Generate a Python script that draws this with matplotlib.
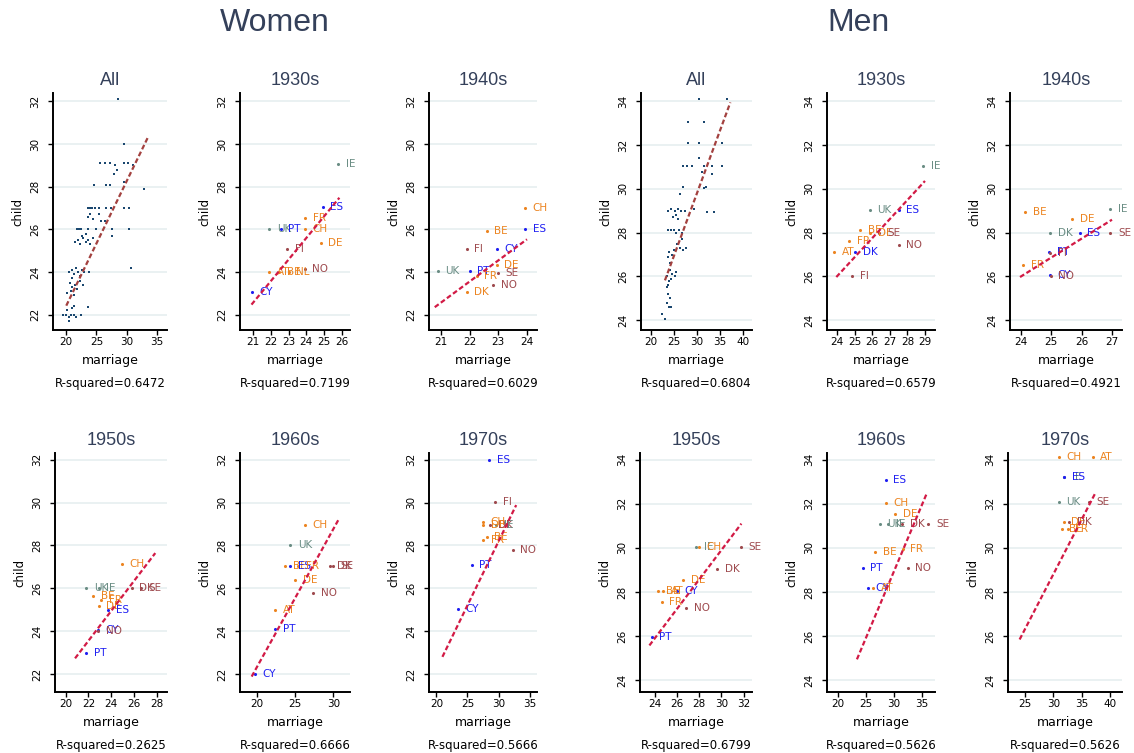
import matplotlib
matplotlib.use("Agg")
import matplotlib.pyplot as plt
import numpy as np

plt.rcParams["font.family"] = ["DejaVu Sans"]

# ---------------------------------------------------------------------------
# values
# ---------------------------------------------------------------------------
women_all_x = [28.6, 29.6, 25.6, 26.4, 27.2, 28.0, 29.6, 30.3, 31.0, 27.9, 28.4,
               24.6, 26.6, 27.2, 29.6, 32.9, 23.6, 24.0, 24.3, 24.7, 25.5, 26.6,
               27.4, 29.6, 30.4, 23.6, 24.0, 24.4, 25.8, 26.5, 25.4, 21.7, 22.1,
               22.5, 23.6, 25.0, 27.5, 30.4, 27.5, 21.4, 21.9, 22.3, 22.8, 23.2,
               23.6, 24.0, 22.6, 23.3, 24.4, 30.8, 20.5, 20.9, 21.3, 21.6, 22.0,
               22.3, 22.6, 23.0, 23.7, 21.0, 20.6, 21.0, 21.4, 21.8, 22.2, 22.7,
               20.2, 21.2, 20.8, 23.6, 19.5, 20.0, 20.4, 20.8, 21.2, 21.6, 22.4,
               20.5, 20.9, 21.3, 20.1]
women_all_y = [32.1, 30.0, 29.1, 29.1, 29.1, 29.0, 29.1, 29.1, 29.0, 28.6, 28.8,
               28.1, 28.1, 28.1, 28.2, 27.9, 27.0, 27.0, 27.0, 27.0, 27.0, 27.0,
               27.0, 27.0, 27.0, 26.6, 26.7, 26.5, 26.4, 26.4, 26.7, 26.0, 26.0,
               26.0, 26.0, 26.0, 26.0, 26.0, 25.7, 25.4, 25.5, 25.3, 25.6, 25.4,
               25.5, 25.3, 25.7, 25.8, 25.6, 24.2, 24.0, 24.1, 23.9, 24.2, 24.0,
               23.8, 24.1, 24.0, 24.0, 23.7, 23.5, 23.3, 23.4, 23.2, 23.6, 23.4,
               23.0, 22.9, 23.1, 22.35, 22.0, 22.0, 21.9, 22.0, 22.0, 21.9, 22.0,
               21.7, 22.3, 22.4, 22.2]

men_all_x = [30.4, 36.6, 28.2, 31.6, 28.2, 30.4, 35.5, 30.4, 27.1, 27.8, 28.9,
             31.6, 33.3, 35.5, 31.1, 33.3, 27.1, 26.4, 31.6, 32.0, 29.3, 32.2,
             33.7, 23.8, 24.5, 25.2, 25.9, 26.6, 25.5, 24.9, 26.0, 27.4, 23.8,
             24.4, 25.0, 25.6, 26.2, 26.9, 25.7, 26.4, 27.0, 27.7, 26.9, 24.0,
             24.6, 25.1, 23.7, 24.3, 24.2, 24.7, 25.2, 25.6, 23.6, 24.0, 23.8,
             24.5, 23.5, 23.7, 24.3, 23.6, 23.9, 24.5, 22.4, 23.1]
men_all_y = [34.1, 34.1, 33.05, 33.05, 32.1, 32.1, 32.1, 31.4, 31.05, 31.05, 31.05,
             31.05, 31.05, 31.05, 30.75, 30.7, 30.1, 29.75, 30.05, 30.1, 29.1, 28.95,
             28.95, 29.0, 29.1, 29.0, 29.1, 29.0, 28.8, 28.7, 28.6, 29.0, 28.1,
             28.1, 28.1, 28.0, 28.1, 28.0, 27.5, 27.3, 27.2, 27.3, 27.7, 27.1,
             27.0, 27.2, 26.9, 26.6, 26.3, 26.1, 26.0, 26.2, 26.0, 25.8, 25.6,
             25.9, 25.5, 25.2, 25.0, 24.8, 24.6, 24.6, 24.3, 24.05]

# decade panels: (country, mean age at marriage, mean age at first child, region)
women_1930s = [("IE", 25.81, 29.06, "anglo"), ("ES", 24.92, 27.05, "south"),
               ("FR", 23.92, 26.55, "west"), ("UK", 21.90, 26.03, "anglo"),
               ("PT", 22.55, 26.03, "south"), ("CH", 23.90, 26.03, "west"),
               ("DE", 24.81, 25.36, "west"), ("FI", 22.92, 25.09, "north"),
               ("AT", 21.90, 24.00, "west"), ("BE", 22.45, 24.00, "west"),
               ("NL", 23.00, 24.00, "west"), ("NO", 23.90, 24.15, "north"),
               ("CY", 20.94, 23.08, "south")]
women_1940s = [("CH", 23.94, 27.02, "west"), ("ES", 23.94, 26.03, "south"),
               ("BE", 22.60, 25.92, "west"), ("FI", 21.90, 25.06, "north"),
               ("CY", 22.95, 25.06, "south"), ("UK", 20.90, 24.03, "anglo"),
               ("PT", 22.00, 24.03, "south"), ("DE", 22.95, 24.35, "west"),
               ("SE", 23.00, 23.95, "north"), ("FR", 22.25, 23.80, "west"),
               ("NO", 22.83, 23.37, "north"), ("DK", 21.90, 23.05, "west")]
women_1950s = [("CH", 24.93, 27.12, "west"), ("UK", 21.79, 26.00, "anglo"),
               ("IE", 22.90, 26.00, "anglo"), ("DK", 25.80, 26.00, "north"),
               ("SE", 26.60, 26.00, "north"), ("BE", 22.40, 25.64, "west"),
               ("FR", 23.10, 25.45, "west"), ("DE", 22.90, 25.15, "west"),
               ("ES", 23.75, 24.99, "south"), ("CY", 22.80, 24.06, "south"),
               ("NO", 22.85, 24.02, "north"), ("PT", 21.79, 23.00, "south")]
women_1960s = [("CH", 26.30, 28.96, "west"), ("UK", 24.35, 28.03, "anglo"),
               ("BE", 23.70, 27.06, "west"), ("ES", 24.35, 27.06, "south"),
               ("FR", 25.40, 27.06, "west"), ("DK", 29.50, 27.06, "north"),
               ("SE", 29.90, 27.06, "north"), ("DE", 25.00, 26.40, "west"),
               ("NO", 27.40, 25.77, "north"), ("AT", 22.40, 25.00, "west"),
               ("PT", 22.40, 24.09, "south"), ("CY", 19.80, 22.00, "south")]
women_1970s = [("ES", 28.53, 32.00, "south"), ("FI", 29.44, 30.03, "north"),
               ("DE", 27.55, 28.94, "west"), ("DK", 28.70, 28.94, "north"),
               ("IE", 29.60, 28.94, "anglo"), ("CH", 27.45, 29.10, "west"),
               ("FR", 27.55, 28.24, "west"), ("BE", 28.10, 28.40, "west"),
               ("NO", 32.30, 27.80, "north"), ("PT", 25.67, 27.08, "south"),
               ("CY", 23.50, 25.01, "south")]

men_1930s = [("IE", 28.90, 31.05, "anglo"), ("UK", 25.85, 29.05, "anglo"),
             ("ES", 27.50, 29.05, "south"), ("BE", 25.30, 28.10, "west"),
             ("DE", 25.90, 28.00, "west"), ("SE", 26.40, 28.00, "north"),
             ("FR", 24.70, 27.60, "west"), ("NO", 27.50, 27.45, "north"),
             ("AT", 23.85, 27.10, "west"), ("DK", 25.05, 27.10, "south"),
             ("FI", 24.85, 26.00, "north")]
men_1940s = [("BE", 24.13, 28.95, "west"), ("IE", 26.95, 29.08, "anglo"),
             ("DE", 25.68, 28.60, "west"), ("DK", 24.96, 28.00, "anglo"),
             ("ES", 25.94, 28.00, "south"), ("SE", 26.95, 28.00, "north"),
             ("PT", 24.94, 27.10, "south"), ("FI", 24.96, 27.08, "north"),
             ("FR", 24.08, 26.50, "west"), ("CY", 24.96, 26.05, "south"),
             ("NO", 24.98, 26.02, "north")]
men_1950s = [("IE", 27.70, 30.05, "anglo"), ("CH", 27.95, 30.05, "west"),
             ("SE", 31.76, 30.05, "north"), ("DK", 29.60, 29.04, "north"),
             ("DE", 26.57, 28.54, "west"), ("BE", 24.30, 28.05, "west"),
             ("AT", 24.75, 28.05, "west"), ("CY", 26.00, 28.05, "south"),
             ("FR", 24.60, 27.56, "west"), ("NO", 26.80, 27.26, "north"),
             ("PT", 23.70, 25.95, "south")]
men_1960s = [("ES", 28.60, 33.07, "south"), ("CH", 28.60, 32.02, "west"),
             ("DE", 30.25, 31.53, "west"), ("UK", 27.47, 31.08, "anglo"),
             ("IE", 29.00, 31.08, "anglo"), ("DK", 31.50, 31.08, "north"),
             ("SE", 36.20, 31.08, "north"), ("BE", 26.70, 29.83, "west"),
             ("FR", 31.60, 29.95, "west"), ("PT", 24.45, 29.10, "south"),
             ("NO", 32.50, 29.10, "north"), ("CY", 25.33, 28.19, "south"),
             ("AT", 26.30, 28.19, "west")]
men_1970s = [("CH", 31.00, 34.10, "west"), ("AT", 36.90, 34.10, "west"),
             ("IE", 31.90, 33.20, "anglo"), ("ES", 31.95, 33.20, "south"),
             ("UK", 31.00, 32.07, "anglo"), ("SE", 36.20, 32.07, "north"),
             ("DE", 31.80, 31.17, "west"), ("DK", 32.80, 31.17, "north"),
             ("BE", 31.50, 30.86, "west"), ("FR", 32.50, 30.86, "west")]

# fitted lines, end points (marriage, child)
fit_women = {"All": [(20.00, 22.42), (33.60, 30.35)],
             "1930s": [(20.90, 22.47), (25.87, 27.48)],
             "1940s": [(20.79, 22.35), (24.00, 25.53)],
             "1950s": [(20.82, 22.73), (27.86, 27.64)],
             "1960s": [(19.35, 21.88), (30.78, 29.27)],
             "1970s": [(20.97, 22.80), (32.84, 29.88)]}
fit_men = {"All": [(23.10, 25.82), (37.30, 33.95)],
           "1930s": [(23.96, 25.97), (29.00, 30.36)],
           "1940s": [(23.97, 25.97), (27.00, 28.59)],
           "1950s": [(23.49, 25.58), (31.80, 31.10)],
           "1960s": [(23.44, 24.95), (35.90, 32.47)],
           "1970s": [(24.10, 25.85), (37.35, 32.47)]}

rsq_women = {"All": "0.6472", "1930s": "0.7199", "1940s": "0.6029",
             "1950s": "0.2625", "1960s": "0.6666", "1970s": "0.5666"}
rsq_men = {"All": "0.6804", "1930s": "0.6579", "1940s": "0.4921",
           "1950s": "0.6799", "1960s": "0.5626", "1970s": "0.5626"}

xticks_women = {"All": [20, 25, 30, 35], "1930s": [21, 22, 23, 24, 25, 26],
                "1940s": [21, 22, 23, 24], "1950s": [20, 22, 24, 26, 28],
                "1960s": [20, 25, 30], "1970s": [20, 25, 30, 35]}
xticks_men = {"All": [20, 25, 30, 35, 40], "1930s": [24, 25, 26, 27, 28, 29],
              "1940s": [24, 25, 26, 27], "1950s": [24, 26, 28, 30, 32],
              "1960s": [20, 25, 30, 35], "1970s": [25, 30, 35, 40]}
yticks_women = [22, 24, 26, 28, 30, 32]
yticks_men = [24, 26, 28, 30, 32, 34]

# ---------------------------------------------------------------------------
# styling / layout
# ---------------------------------------------------------------------------
W, H = 1134, 753
NAVY = "#1a476f"
TITLE = "#34405a"
GRID = "#e8f0f1"
region_color = {"west": "#ec8420", "south": "#1f1ff2", "anglo": "#6a8d84",
                "north": "#9e4a4e"}

# axes boxes in pixels: left, top, width, height
layout = {
    ("Women", "All"): (53, 93, 114, 237), ("Women", "1930s"): (240, 93, 110, 237),
    ("Women", "1940s"): (429, 93, 108, 237), ("Men", "All"): (641, 93, 111, 237),
    ("Men", "1930s"): (827, 93, 108, 237), ("Men", "1940s"): (1010, 93, 112, 237),
    ("Women", "1950s"): (55, 453, 112, 239), ("Women", "1960s"): (240, 453, 110, 239),
    ("Women", "1970s"): (429, 453, 108, 239), ("Men", "1950s"): (640, 453, 112, 239),
    ("Men", "1960s"): (827, 453, 108, 239), ("Men", "1970s"): (1008, 453, 114, 239),
}
xlims = {
    ("Women", "All"): (17.8, 36.7), ("Women", "1930s"): (20.25, 26.47),
    ("Women", "1940s"): (20.59, 24.35), ("Men", "All"): (17.9, 42.0),
    ("Men", "1930s"): (23.43, 29.57), ("Men", "1940s"): (23.64, 27.33),
    ("Women", "1950s"): (19.06, 28.89), ("Women", "1960s"): (17.83, 32.17),
    ("Women", "1970s"): (18.81, 36.19), ("Men", "1950s"): (22.64, 32.76),
    ("Men", "1960s"): (18.1, 37.37), ("Men", "1970s"): (22.06, 42.06),
}
ylims = {("Women", 0): (21.28, 32.39), ("Women", 1): (21.16, 32.31),
         ("Men", 0): (23.55, 34.38), ("Men", 1): (23.47, 34.30)}

decade_data = {
    ("Women", "1930s"): women_1930s, ("Women", "1940s"): women_1940s,
    ("Women", "1950s"): women_1950s, ("Women", "1960s"): women_1960s,
    ("Women", "1970s"): women_1970s, ("Men", "1930s"): men_1930s,
    ("Men", "1940s"): men_1940s, ("Men", "1950s"): men_1950s,
    ("Men", "1960s"): men_1960s, ("Men", "1970s"): men_1970s,
}

fig = plt.figure(figsize=(W / 100, H / 100), dpi=100)

for (sex, panel), (lx, ty, w, h) in layout.items():
    row = 0 if ty < 300 else 1
    ax = fig.add_axes([lx / W, 1 - (ty + h) / H, w / W, h / H])
    fits = fit_women if sex == "Women" else fit_men
    rsq = rsq_women if sex == "Women" else rsq_men
    xt = xticks_women if sex == "Women" else xticks_men
    yt = yticks_women if sex == "Women" else yticks_men

    if panel == "All":
        xs, ys = (women_all_x, women_all_y) if sex == "Women" else (men_all_x, men_all_y)
        ax.scatter(xs, ys, s=3, marker="s", color=NAVY, linewidths=0, zorder=3)
        line_color = "#a3413f"
    else:
        for code, mx, cy, reg in decade_data[(sex, panel)]:
            col = region_color[reg]
            ax.scatter([mx], [cy], s=5, color=col, linewidths=0, zorder=3)
            ax.annotate(code, (mx, cy), xytext=(5.5, 0), textcoords="offset points",
                        ha="left", va="center", fontsize=7.5, color=col, zorder=4)
        line_color = "#d21a45"

    (x0, y0), (x1, y1) = fits[panel]
    ax.plot([x0, x1], [y0, y1], color=line_color, lw=1.6,
            ls=(0, (2.2, 1.2)), zorder=5)

    ax.set_xlim(*xlims[(sex, panel)])
    ax.set_ylim(*ylims[(sex, row)])
    ax.set_xticks(xt[panel])
    ax.set_yticks(yt)
    ax.yaxis.grid(True, color=GRID, lw=1.3, zorder=0)
    ax.set_axisbelow(True)
    for side in ("top", "right"):
        ax.spines[side].set_visible(False)
    for side in ("left", "bottom"):
        ax.spines[side].set_linewidth(1.4)
    ax.tick_params(axis="x", length=3.5, width=1, pad=1.5, labelsize=7.5)
    ax.tick_params(axis="y", length=3.5, width=1, pad=6, labelsize=7.5)
    for lab in ax.get_yticklabels():
        lab.set_rotation(90)
        lab.set_va("center")
    ax.set_title(panel, fontsize=13, color=TITLE, pad=6, family="Liberation Sans")
    ax.set_ylabel("child", fontsize=8.5, labelpad=4)
    ax.set_xlabel("marriage", fontsize=9, labelpad=5)
    fig.text((lx + w / 2) / W, 1 - (ty + h + 54) / H, "R-squared=" + rsq[panel],
             ha="center", va="center", fontsize=8.5)

fig.text(275 / W, 1 - 23 / H, "Women", ha="center", va="center", fontsize=23,
         color=TITLE, family="Liberation Sans")
fig.text(858 / W, 1 - 23 / H, "Men", ha="center", va="center", fontsize=23,
         color=TITLE, family="Liberation Sans")

fig.savefig("out.png", dpi=100, facecolor="white")
